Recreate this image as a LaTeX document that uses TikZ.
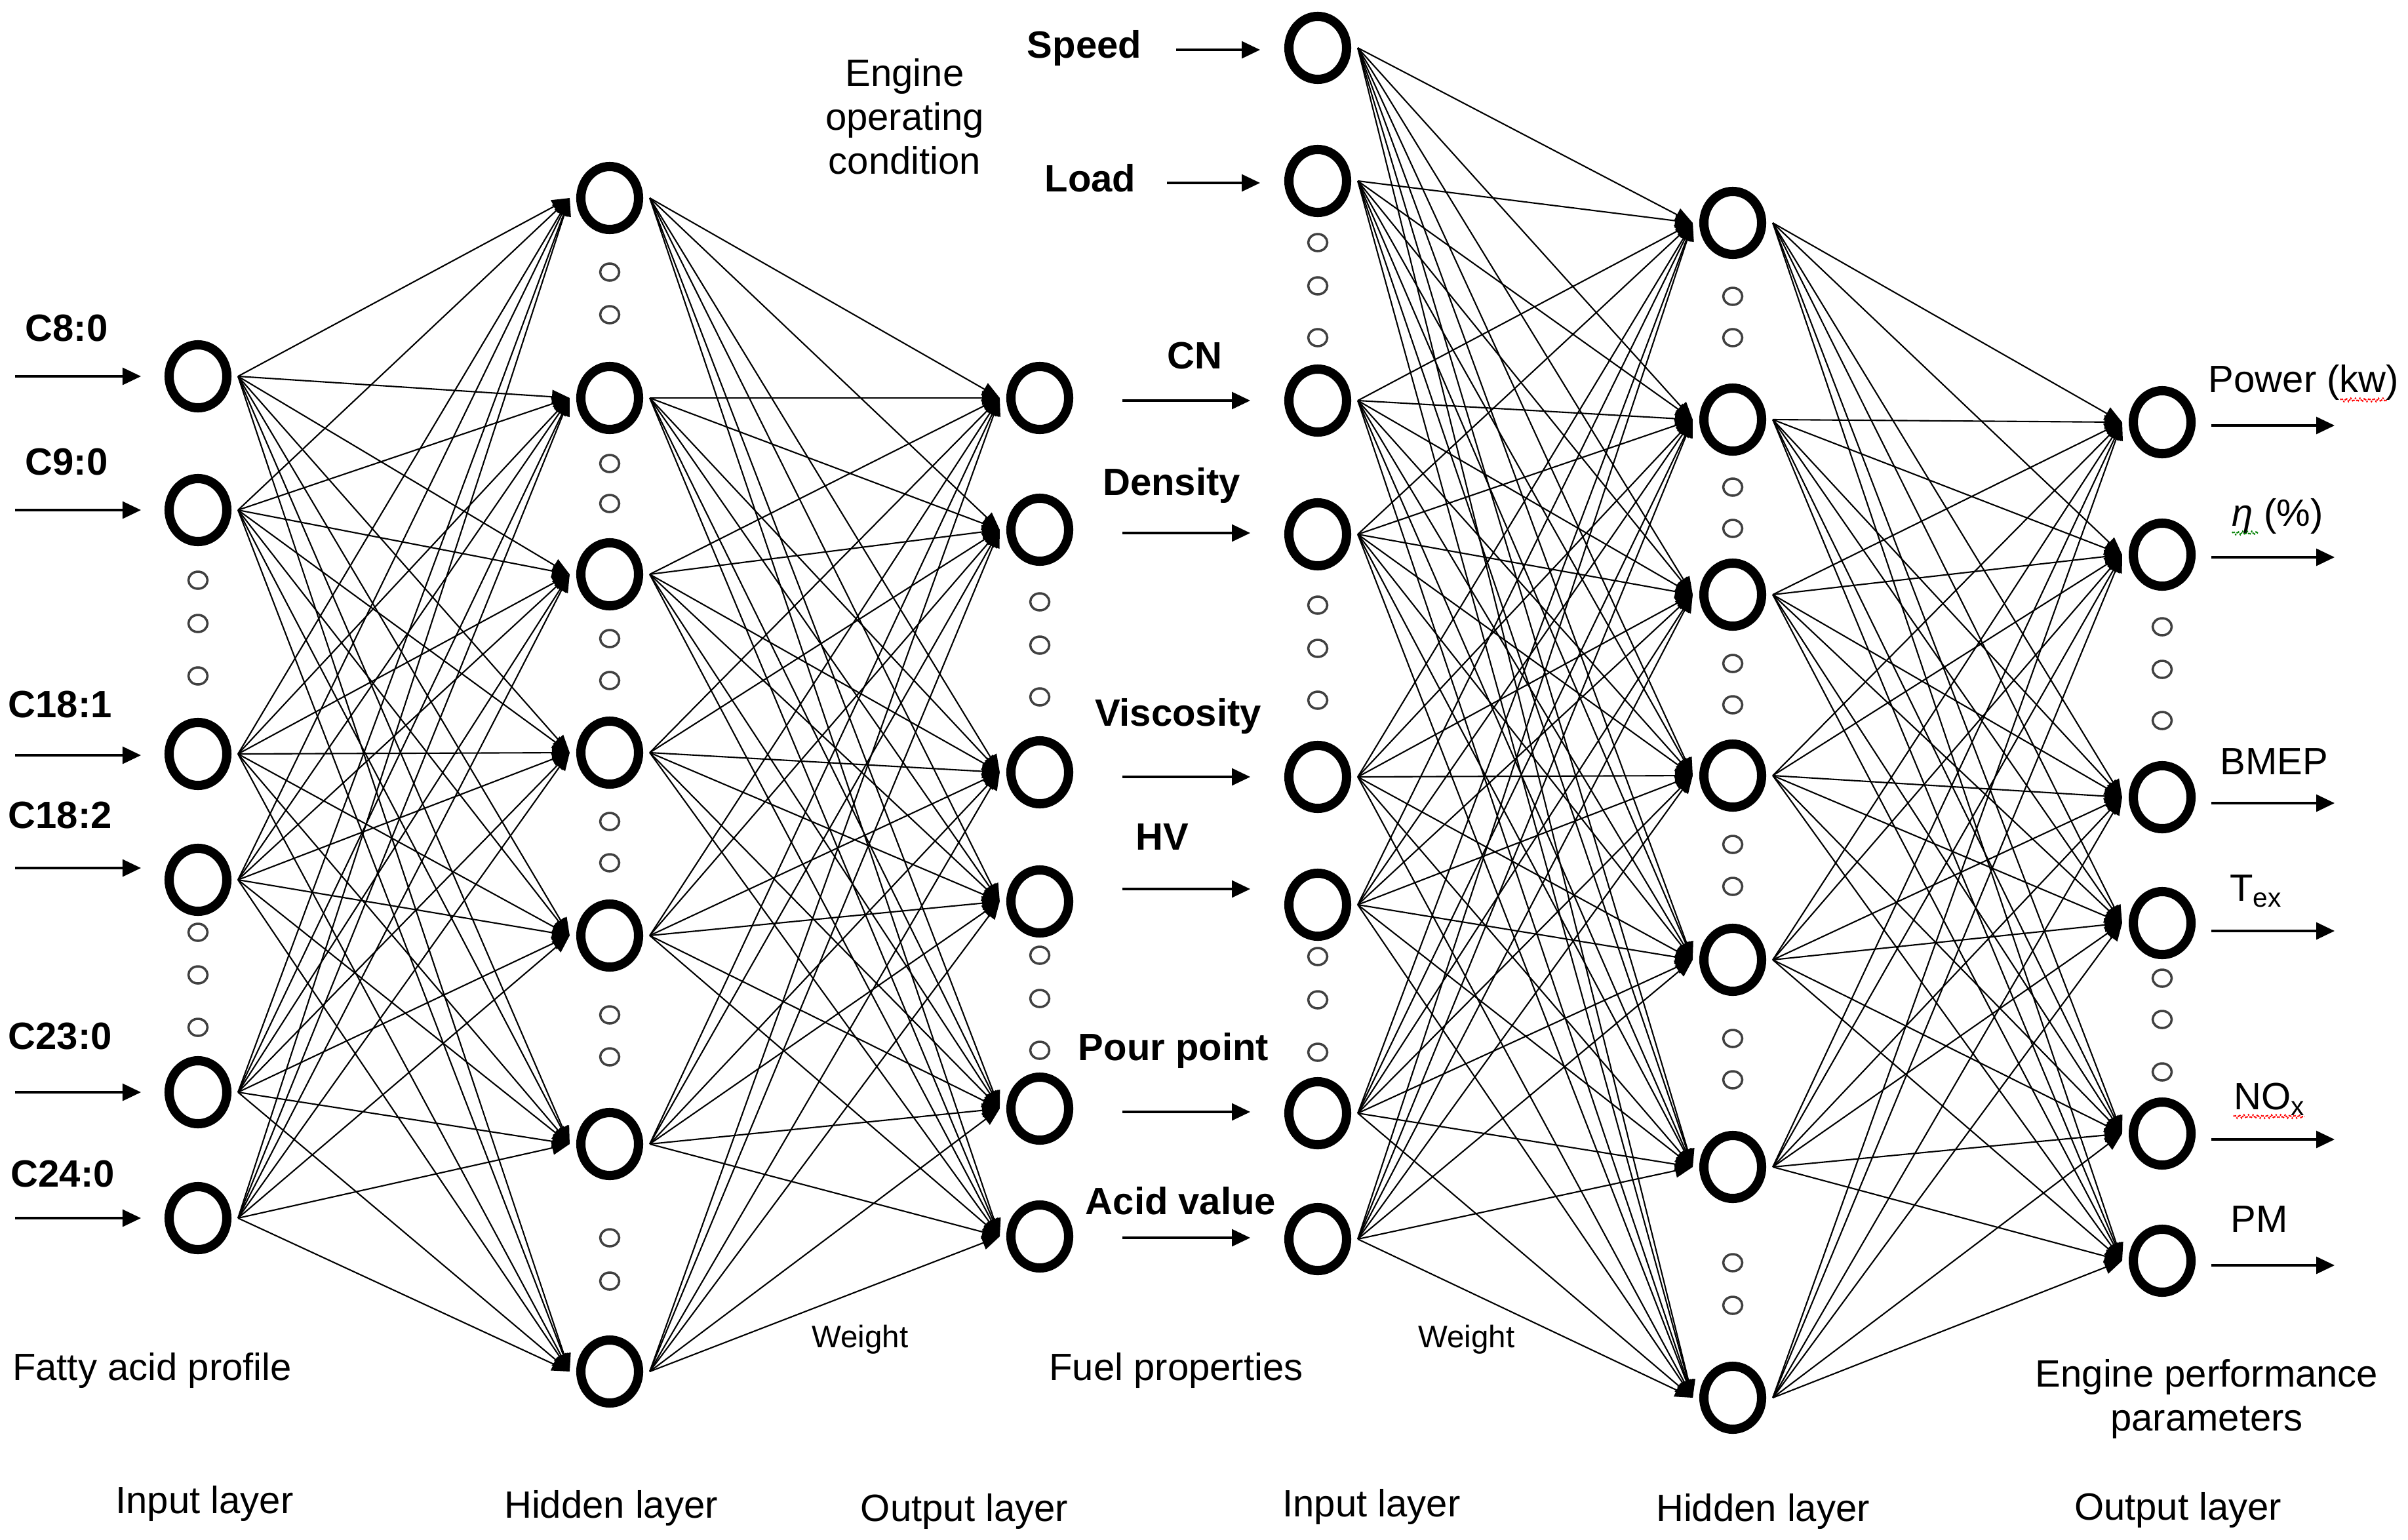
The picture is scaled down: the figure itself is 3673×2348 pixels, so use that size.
\documentclass[tikz,border=0pt]{standalone}
\usepackage{fontspec}
\setmainfont{Liberation Sans}
\usetikzlibrary{arrows.meta,shapes.geometric,decorations.pathmorphing}
\begin{document}
\begin{tikzpicture}[x=0.01cm,y=-0.01cm,
  neuron/.style={ellipse,draw,line width=4pt,minimum width=0.88cm,minimum height=0.96cm,inner sep=0},
  dotn/.style={ellipse,draw=black!75,line width=1pt,minimum width=0.29cm,minimum height=0.26cm,inner sep=0},
  conn/.style={line width=0.6pt,-{Triangle[length=0.27cm,width=0.21cm]}},
  inarrow/.style={line width=0.9pt,-{Triangle[length=0.28cm,width=0.26cm]}},
  blab/.style={font=\fontsize{16.5}{18}\selectfont\bfseries,inner sep=0},
  rlab/.style={font=\fontsize{16.5}{19}\selectfont,inner sep=0,align=center},
  wlab/.style={font=\fontsize{13.5}{15}\selectfont,inner sep=0},
  squig/.style={decorate,decoration={zigzag,segment length=0.07cm,amplitude=0.025cm},line width=0.6pt,dash pattern=on 0.6pt off 0.5pt}
]
\useasboundingbox (0,0) rectangle (3673,2348);

% ---- layer A (fatty acid inputs)
\foreach \n/\y in {1/574,2/778,3/1150,4/1342,5/1666,6/1858}
  \node[neuron] (a\n) at (302,\y) {};
\foreach \y in {885,951,1031,1422,1487,1567}
  \node[dotn] (ad\y) at (302,\y) {};
% ---- layer B (hidden 1)
\foreach \n/\y in {1/302,2/607,3/876,4/1148,5/1427,6/1745,7/2092}
  \node[neuron] (b\n) at (930,\y) {};
\foreach \y in {415,480,707,768,974,1038,1253,1316,1548,1612,1888,1954}
  \node[dotn] (bd\y) at (930,\y) {};
% ---- layer C (output 1)
\foreach \n/\y in {1/607,2/808,3/1178,4/1375,5/1691,6/1886}
  \node[neuron] (c\n) at (1586,\y) {};
\foreach \y in {918,984,1063,1457,1523,1602}
  \node[dotn] (cd\y) at (1586,\y) {};
% ---- layer D (input 2)
\foreach \n/\y in {1/73,2/276,3/611,4/815,5/1185,6/1380,7/1698,8/1890}
  \node[neuron] (d\n) at (2010,\y) {};
\foreach \y in {370,436,515,923,989,1068,1459,1525,1605}
  \node[dotn] (dd\y) at (2010,\y) {};
% ---- layer E (hidden 2)
\foreach \n/\y in {1/340,2/640,3/907,4/1183,5/1464,6/1780,7/2132}
  \node[neuron] (e\n) at (2643,\y) {};
\foreach \y in {452,515,743,806,1012,1075,1288,1352,1584,1647,1926,1991}
  \node[dotn] (ed\y) at (2643,\y) {};
% ---- layer F (output 2)
\foreach \n/\y in {1/644,2/846,3/1216,4/1408,5/1729,6/1923}
  \node[neuron] (f\n) at (3298,\y) {};
\foreach \y in {956,1021,1099,1492,1555,1635}
  \node[dotn] (fd\y) at (3298,\y) {};

% ---- full connections
\foreach \i in {1,...,6}
  \foreach \j in {1,...,7}
    \draw[conn] ([xshift=0.1cm]a\i.east) -- ([xshift=-0.1cm]b\j.west);
\foreach \i in {1,...,7}
  \foreach \j in {1,...,6}
    \draw[conn] ([xshift=0.1cm]b\i.east) -- ([xshift=-0.1cm]c\j.west);
\foreach \i in {1,...,8}
  \foreach \j in {1,...,7}
    \draw[conn] ([xshift=0.1cm]d\i.east) -- ([xshift=-0.1cm]e\j.west);
\foreach \i in {1,...,7}
  \foreach \j in {1,...,6}
    \draw[conn] ([xshift=0.1cm]e\i.east) -- ([xshift=-0.1cm]f\j.west);

% ---- left input arrows and labels
\foreach \n/\y in {1/574,2/778,3/1152,4/1324,5/1666,6/1858}
  {\coordinate (la\n) at (23,\y); \coordinate (lb\n) at (215,\y);
   \draw[inarrow] (la\n) -- (lb\n);}
\node[blab,anchor=west] (lc8) at (38,501) {C8:0};
\node[blab,anchor=west] (lc9) at (38,705) {C9:0};
\node[blab,anchor=west] (lc181) at (12,1075) {C18:1};
\node[blab,anchor=west] (lc182) at (12,1244) {C18:2};
\node[blab,anchor=west] (lc23) at (12,1581) {C23:0};
\node[blab,anchor=west] (lc24) at (16,1790) {C24:0};

% ---- middle arrows and labels
\foreach \n/\y in {1/611,2/813,3/1185,4/1356,5/1696,6/1888}
  {\coordinate (ma\n) at (1712,\y); \coordinate (mb\n) at (1907,\y);
   \draw[inarrow] (ma\n) -- (mb\n);}
\coordinate (sa) at (1794,76); \coordinate (sb) at (1922,76);
\draw[inarrow] (sa) -- (sb);
\coordinate (lda) at (1780,279); \coordinate (ldb) at (1922,279);
\draw[inarrow] (lda) -- (ldb);
\node[blab] (speed) at (1654,73) {Speed};
\node[blab] (load) at (1663,272) {Load};
\node[blab] (cn) at (1822,543) {CN};
\node[blab] (dens) at (1787,740) {Density};
\node[blab] (visc) at (1797,1092) {Viscosity};
\node[blab] (hv) at (1773,1277) {HV};
\node[blab] (pour) at (1790,1602) {Pour point};
\node[blab] (acid) at (1801,1832) {Acid value};
\node[rlab] (eoc) at (1380,178) {Engine\\operating\\condition};

% ---- right output arrows and labels
\foreach \n/\y in {1/649,2/850,3/1225,4/1420,5/1738,6/1930}
  {\coordinate (ra\n) at (3373,\y); \coordinate (rb\n) at (3561,\y);
   \draw[inarrow] (ra\n) -- (rb\n);}
\node[rlab] (power) at (3514,583) {Power (kw)};
\node[rlab] (eta) at (3474,787) {{\itshape η} (\%)};
\node[rlab] (bmep) at (3469,1162) {BMEP};
\node[rlab] (tex) at (3441,1359) {T\textsubscript{ex}};
\node[rlab] (nox) at (3462,1677) {NO\textsubscript{x}};
\node[rlab] (pm) at (3446,1860) {PM};
\coordinate (q1a) at (3570,610); \coordinate (q1b) at (3641,610);
\draw[squig,red] (q1a) -- (q1b);
\coordinate (q2a) at (3405,813); \coordinate (q2b) at (3444,813);
\draw[squig,green!50!black] (q2a) -- (q2b);
\coordinate (q3a) at (3407,1703); \coordinate (q3b) at (3515,1703);
\draw[squig,red] (q3a) -- (q3b);

% ---- bottom captions
\node[rlab] (fap) at (232,2090) {Fatty acid profile};
\node[wlab] (w1) at (1312,2043) {Weight};
\node[rlab] (fp) at (1794,2090) {Fuel properties};
\node[wlab] (w2) at (2237,2043) {Weight};
\node[rlab] (epp) at (3366,2134) {Engine performance\\parameters};
\node[rlab] (il1) at (312,2293) {Input layer};
\node[rlab] (hl1) at (932,2300) {Hidden layer};
\node[rlab] (ol1) at (1471,2305) {Output layer};
\node[rlab] (il2) at (2092,2298) {Input layer};
\node[rlab] (hl2) at (2689,2305) {Hidden layer};
\node[rlab] (ol2) at (3322,2303) {Output layer};
\end{tikzpicture}
\end{document}
